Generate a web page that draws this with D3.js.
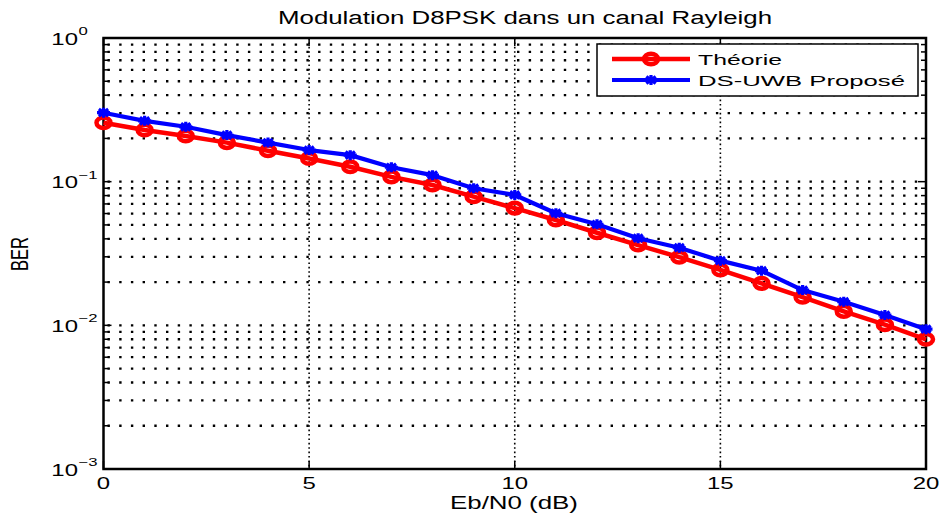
<!DOCTYPE html>
<html><head><meta charset="utf-8">
<script src="https://cdn.jsdelivr.net/npm/d3@7"></script>
<style>
body{margin:0;background:#fff}
svg{display:block}
text{font-family:"Liberation Sans",Arial,Helvetica,sans-serif;fill:#000}
</style>
</head><body>
<svg id="c" width="944" height="517"></svg>
<script>
// ---- data ----
const ebn0 = [0,1,2,3,4,5,6,7,8,9,10,11,12,13,14,15,16,17,18,19,20];
const theorie = [0.257,0.229,0.208,0.187,0.164,0.145,0.127,0.108,0.0948,0.0786,0.0654,0.0541,0.0441,0.0362,0.0298,0.0243,0.0196,0.0157,0.0125,0.0101,0.0080];
const propose = [0.302,0.265,0.241,0.211,0.187,0.166,0.153,0.126,0.111,0.090,0.0808,0.0603,0.0505,0.0404,0.0347,0.0282,0.0240,0.0176,0.0146,0.0118,0.0094];
const xTicks = [0,5,10,15,20];
const yDecades = [1,0.1,0.01,0.001];
const yExponents = ["0","\u22121","\u22122","\u22123"];
const seriesNames = ["Théorie","DS-UWB Proposé"];
const titleText = "Modulation D8PSK dans un canal Rayleigh";
const xLabel = "Eb/N0 (dB)";
const yLabel = "BER";

// ---- layout ----
const L = 103.5, R = 926, T = 38, B = 469;
const K = 1.45; // horizontal text stretch
const svg = d3.select("#c");
const x = d3.scaleLinear().domain([0,20]).range([L,R]);
const y = d3.scaleLog().domain([1e-3,1]).range([B,T]);

function stretch(sel,k){
  sel.each(function(){
    const w = this.getComputedTextLength();
    this.setAttribute("textLength", w*k);
    this.setAttribute("lengthAdjust","spacingAndGlyphs");
  });
  return sel;
}
function fixLen(sel,w){
  sel.attr("textLength",w).attr("lengthAdjust","spacingAndGlyphs");
  return sel;
}

// ---- grid ----
const yGrid = y.ticks().filter(v => v > 1.0001e-3 && v < 0.9999);
svg.append("g").selectAll("line").data(yGrid).join("line")
  .attr("x1",L+4).attr("x2",R).attr("y1",d=>y(d)).attr("y2",d=>y(d))
  .attr("stroke","#000").attr("stroke-width",2.3).attr("stroke-dasharray","2.4,9.3");
svg.append("g").selectAll("line").data(xTicks.slice(1,-1)).join("line")
  .attr("x1",d=>x(d)).attr("x2",d=>x(d)).attr("y1",T).attr("y2",B)
  .attr("stroke","#000").attr("stroke-width",1.6).attr("stroke-dasharray","1.6,2.8");

// ---- axis box and ticks ----
const tk = svg.append("g").attr("stroke","#000").attr("stroke-width",1.5);
xTicks.forEach(v=>{
  tk.append("line").attr("x1",x(v)).attr("x2",x(v)).attr("y1",B).attr("y2",B-8);
  tk.append("line").attr("x1",x(v)).attr("x2",x(v)).attr("y1",T).attr("y2",T+8);
});
y.ticks().forEach(v=>{
  const major = yDecades.some(d=>Math.abs(d-v)/d<1e-6);
  const len = major ? 8 : 5;
  tk.append("line").attr("x1",L).attr("x2",L+len).attr("y1",y(v)).attr("y2",y(v));
  tk.append("line").attr("x1",R).attr("x2",R-len).attr("y1",y(v)).attr("y2",y(v));
});
svg.append("rect").attr("x",L).attr("y",T).attr("width",R-L).attr("height",B-T)
  .attr("fill","none").attr("stroke","#000").attr("stroke-width",2.5);

// ---- tick labels ----
const xl = svg.append("g");
xTicks.forEach(v=>{
  stretch(xl.append("text").attr("x",x(v)).attr("y",489).attr("text-anchor","middle")
    .attr("font-size",16.5).text(v), K);
});
const yl = svg.append("g");
yDecades.forEach((v,i)=>{
  stretch(yl.append("text").attr("x",78).attr("y",y(v)+6.5).attr("text-anchor","end")
    .attr("font-size",16.5).text("10"), K);
  stretch(yl.append("text").attr("x",78.5).attr("y",y(v)-3).attr("text-anchor","start")
    .attr("font-size",11.5).text(yExponents[i]), K);
});

// ---- titles ----
fixLen(svg.append("text").attr("x",525).attr("y",24).attr("text-anchor","middle")
  .attr("font-size",18).text(titleText), 494);
fixLen(svg.append("text").attr("x",514).attr("y",509).attr("text-anchor","middle")
  .attr("font-size",18).text(xLabel), 128);
svg.append("text").attr("transform",`translate(28,254) scale(${K},1) rotate(-90)`)
  .attr("text-anchor","middle").attr("font-size",16.5).text(yLabel);

// ---- series ----
const line = d3.line().x((d,i)=>x(ebn0[i])).y(d=>y(d));
const starPath = (sx,sy)=>`M${-sx},0L${sx},0M0,${-sy}L0,${sy}M${-sx*0.72},${-sy*0.72}L${sx*0.72},${sy*0.72}M${-sx*0.72},${sy*0.72}L${sx*0.72},${-sy*0.72}`;

function drawRed(g, pts){
  g.selectAll("ellipse").data(pts).join("ellipse")
    .attr("cx",d=>d[0]).attr("cy",d=>d[1]).attr("rx",7).attr("ry",5.3)
    .attr("fill","none").attr("stroke","#ff0000").attr("stroke-width",4.5);
}
function drawBlue(g, pts){
  g.selectAll("path.m").data(pts).join("path").attr("class","m")
    .attr("transform",d=>`translate(${d[0]},${d[1]})`)
    .attr("d",starPath(6.5,5))
    .attr("fill","none").attr("stroke","#0000ff").attr("stroke-width",3.2);
}

const gRed = svg.append("g");
gRed.append("path").datum(theorie).attr("d",line)
  .attr("fill","none").attr("stroke","#ff0000").attr("stroke-width",4.5).attr("stroke-linejoin","round");
drawRed(gRed, theorie.map((v,i)=>[x(ebn0[i]),y(v)]));

const gBlue = svg.append("g");
gBlue.append("path").datum(propose).attr("d",line)
  .attr("fill","none").attr("stroke","#0000ff").attr("stroke-width",4.2).attr("stroke-linejoin","round");
drawBlue(gBlue, propose.map((v,i)=>[x(ebn0[i]),y(v)]));

// ---- legend ----
const lg = svg.append("g");
lg.append("rect").attr("x",597).attr("y",44).attr("width",321).attr("height",52)
  .attr("fill","#fff").attr("stroke","#000").attr("stroke-width",1.5);
const rows = [59,80];
lg.append("line").attr("x1",612).attr("x2",690).attr("y1",rows[0]).attr("y2",rows[0])
  .attr("stroke","#ff0000").attr("stroke-width",4.5);
drawRed(lg.append("g"), [[651,rows[0]]]);
lg.append("line").attr("x1",612).attr("x2",690).attr("y1",rows[1]).attr("y2",rows[1])
  .attr("stroke","#0000ff").attr("stroke-width",4.2);
drawBlue(lg.append("g"), [[651,rows[1]]]);
fixLen(lg.append("text").attr("x",698).attr("y",rows[0]+5.5).attr("font-size",15.5).text(seriesNames[0]),84);
fixLen(lg.append("text").attr("x",698).attr("y",rows[1]+5.5).attr("font-size",15.5).text(seriesNames[1]),207);
</script>
</body></html>
